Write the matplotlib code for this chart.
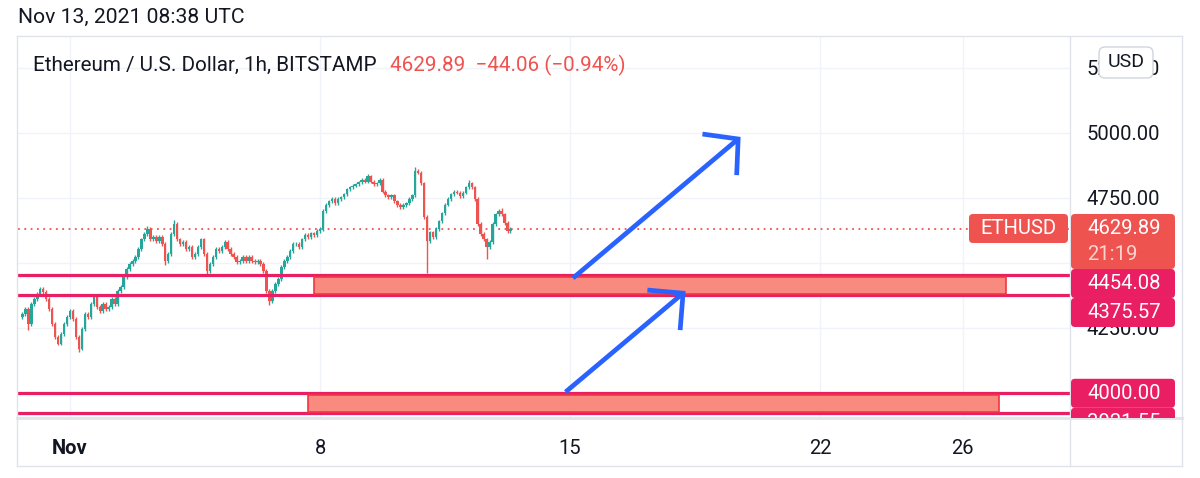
import numpy as np
import pandas as pd
import matplotlib
matplotlib.use("Agg")
import matplotlib.pyplot as plt
import matplotlib.dates as mdates
from matplotlib.patches import Rectangle, FancyBboxPatch
from matplotlib.lines import Line2D
from matplotlib.transforms import IdentityTransform, Bbox

plt.rcParams['font.family'] = ['Roboto', 'DejaVu Sans']

W, H = 1200, 478

# ETH/USD closes, 2h steps ending Nov 13 08:00 UTC
closes = [
    4303, 4323, 4265, 4342, 4361, 4380, 4399, 4388, 4361, 4323,
    4265, 4215, 4189, 4227, 4265, 4292, 4315, 4284, 4215, 4170,
    4246, 4303, 4292, 4342, 4369, 4330, 4315, 4342, 4323, 4330,
    4361, 4342, 4391, 4407, 4445, 4476, 4495, 4506, 4522, 4552,
    4590, 4610, 4629, 4590, 4598, 4583, 4598, 4571, 4506, 4533,
    4610, 4648, 4590, 4571, 4579, 4552, 4560, 4522, 4533, 4560,
    4590, 4533, 4468, 4495, 4522, 4552, 4545, 4560, 4579, 4552,
    4533, 4522, 4502, 4506, 4522, 4506, 4522, 4506, 4502, 4506,
    4495, 4468, 4391, 4353, 4391, 4418, 4437, 4483, 4506, 4522,
    4545, 4571, 4571, 4560, 4590, 4606, 4598, 4613, 4606, 4621,
    4629, 4698, 4721, 4736, 4744, 4728, 4744, 4751, 4763, 4782,
    4790, 4797, 4801, 4809, 4820, 4812, 4832, 4812, 4801, 4805,
    4820, 4774, 4759, 4751, 4759, 4736, 4721, 4713, 4721, 4728,
    4744, 4759, 4851, 4847, 4805, 4675, 4583, 4617, 4598, 4629,
    4659, 4690, 4724, 4744, 4763, 4774, 4770, 4755, 4770, 4790,
    4805, 4790, 4744, 4648, 4610, 4590, 4560, 4579, 4648, 4686,
    4698, 4686, 4652, 4622, 4629.89,
]
first_open = 4290
# notable wicks (candle index -> price)
highs_extra = {6: 4402, 42: 4640, 51: 4665, 116: 4842, 132: 4868, 133: 4862, 150: 4820, 161: 4710}
lows_extra = {2: 4240, 19: 4155, 48: 4490, 62: 4455, 83: 4338, 136: 4460, 156: 4515}
wick_pad = 7

last_price = 4629.89
header = "Ethereum / U.S. Dollar, 1h, BITSTAMP"
change_txt = "4629.89  \u221244.06 (\u22120.94%)"
stamp = "Nov 13, 2021 08:38 UTC"

level_prices = [4454.08, 4375.57, 4000.00, 3921.55]
zones = [  # top, bottom, start, end
    (4445, 4380, "2021-11-07 20:00", "2021-11-27 05:00"),
    (3991, 3926, "2021-11-07 16:00", "2021-11-27 00:00"),
]
arrows = [
    (["2021-11-15 02:00", "2021-11-19 17:00"], [4441, 4976],
     ["2021-11-18 17:00", "2021-11-19 17:00", "2021-11-19 16:00"], [4995, 4976, 4837]),
    (["2021-11-14 21:00", "2021-11-18 04:00"], [4003, 4383],
     ["2021-11-17 04:00", "2021-11-18 04:00", "2021-11-18 02:00"], [4395, 4383, 4241]),
]
tick_dates = ["2021-11-01", "2021-11-08", "2021-11-15", "2021-11-22", "2021-11-26"]
tick_labels = ["Nov", "8", "15", "22", "26"]
price_ticks = [4000, 4250, 4500, 4750, 5000, 5250]
hidden_ticks = [4000, 4500]   # covered by the price tags

UP, DOWN = "#26a69a", "#ef5350"
MAGENTA = "#e91e63"
BLUE = "#2962ff"
GRID = "#f0f3fa"
FRAME = "#e0e3eb"
TXT = "#131722"

fig = plt.figure(figsize=(W / 100, H / 100), dpi=100)
ax = fig.add_axes([18 / W, (H - 418) / H, (1070 - 18) / W, (418 - 36) / H])
for s in ax.spines.values():
    s.set_visible(False)

t = pd.date_range(end="2021-11-13 08:00", periods=len(closes), freq="2h")
x = mdates.date2num(t)
c = np.array(closes, dtype=float)
o = np.array([first_open] + closes[:-1], dtype=float)
hi = np.maximum(o, c) + wick_pad
lo = np.minimum(o, c) - wick_pad
for i, v in highs_extra.items():
    hi[i] = max(hi[i], v)
for i, v in lows_extra.items():
    lo[i] = min(lo[i], v)
cols = [UP if cc >= oo else DOWN for oo, cc in zip(o, c)]

ax.vlines(x, lo, hi, colors=cols, lw=1, zorder=3)
ax.bar(x, np.maximum(np.abs(c - o), 2), bottom=np.minimum(o, c), width=0.07,
       color=cols, zorder=3, linewidth=0)

ax.axhline(last_price, color=DOWN, lw=1.3, ls=(0, (1, 2.5)), zorder=2)

for p in level_prices:
    ax.axhline(p, color=MAGENTA, lw=2.3, zorder=4)

for top, bot, start, end in zones:
    x0 = mdates.date2num(pd.Timestamp(start))
    x1 = mdates.date2num(pd.Timestamp(end))
    ax.add_patch(Rectangle((x0, bot), x1 - x0, top - bot, facecolor="#f88a80",
                           edgecolor="#f23645", lw=1.2, zorder=5))

for line_d, line_p, head_d, head_p in arrows:
    xd = mdates.date2num(pd.to_datetime(line_d))
    hd = mdates.date2num(pd.to_datetime(head_d))
    ax.plot(xd, line_p, color=BLUE, lw=3.4, solid_capstyle="butt", zorder=6)
    ax.plot(hd, head_p, color=BLUE, lw=3.4, solid_capstyle="butt",
            solid_joinstyle="miter", zorder=6)

ax.set_xlim(mdates.date2num(pd.Timestamp("2021-10-30 13:03")),
            mdates.date2num(pd.Timestamp("2021-11-29 00:00")))
ax.set_ylim(3903, 5372)

ax.set_xticks(mdates.date2num(pd.to_datetime(tick_dates)))
ax.set_xticklabels(tick_labels)
ax.set_yticks(price_ticks)
ax.set_yticklabels(["" if v in hidden_ticks else f"{v:.2f}" for v in price_ticks])
ax.yaxis.tick_right()
ax.tick_params(axis="x", length=0, pad=15, labelsize=14.5, labelcolor=TXT)
ax.tick_params(axis="y", length=0, pad=12, labelsize=14.6, labelcolor=TXT)
ax.get_xticklabels()[0].set_fontweight("bold")
ax.grid(True, color=GRID, lw=1, zorder=0)
ax.set_axisbelow(True)

ID = IdentityTransform()


def py(p):
    return H - ax.transData.transform((0, p))[1]


def fline(x0, y0, x1, y1, lw=1, color=FRAME):
    fig.add_artist(Line2D([x0, x1], [H - y0, H - y1], transform=ID, color=color, lw=lw))


# frame
fline(17, 36, 1182, 36)
fline(17, 36, 17, 466)
fline(17, 466, 1182, 466)
fline(1182, 36, 1182, 466)
fline(1070, 36, 1070, 466)
fline(17, 418, 1182, 418, lw=2)

# header texts
fig.text(18, H - 23, stamp, transform=ID, fontsize=15.2, color=TXT, va="baseline")
fig.text(33, H - 71, header, transform=ID, fontsize=14.9, color=TXT, va="baseline")
fig.text(390, H - 71, change_txt, transform=ID, fontsize=14.9, color=DOWN, va="baseline")

# USD badge over the top price label
fig.add_artist(FancyBboxPatch((1099, H - 78), 54, 31, boxstyle="round,pad=0,rounding_size=6",
                              transform=ID, fc="white", ec="#d1d4dc", lw=1, zorder=10))
fig.text(1126, H - 62, "USD", transform=ID, fontsize=14, color=TXT, ha="center",
         va="center", zorder=11)

# ETHUSD tag on the last price line
yl = py(last_price)
fig.add_artist(FancyBboxPatch((969, H - (yl + 14)), 99, 29, boxstyle="round,pad=0,rounding_size=4",
                              transform=ID, fc="#ef5350", ec="none", zorder=10))
fig.text(1018, H - yl, "ETHUSD", transform=ID, fontsize=14.6, color="white", ha="center",
         va="center", zorder=11)

# price-scale labels, stacked like TradingView
clip = Bbox.from_extents(1071, H - 418, 1182, H - 36)
top = yl - 15
fig.add_artist(FancyBboxPatch((1071, H - (top + 55)), 104, 55, boxstyle="round,pad=0,rounding_size=4",
                              transform=ID, fc="#ef5350", ec="none", zorder=10))
fig.text(1087, H - yl, f"{last_price:.2f}", transform=ID, fontsize=14.6, color="white",
         va="center", zorder=11)
fig.text(1087, H - (yl + 26), "21:19", transform=ID, fontsize=14.6, color="#fcd3cf",
         va="center", zorder=11)
prev_bottom = top + 55
for p in level_prices:
    ty = max(py(p) - 14, prev_bottom)
    box = FancyBboxPatch((1071, H - (ty + 29)), 104, 29, boxstyle="round,pad=0,rounding_size=4",
                         transform=ID, fc=MAGENTA, ec="none", zorder=10)
    fig.add_artist(box)
    box.set_clip_box(clip)
    tx = fig.text(1087, H - (ty + 14.5), f"{p:.2f}", transform=ID, fontsize=14.6, color="white",
                  va="center", zorder=11)
    tx.set_clip_box(clip)
    tx.set_clip_on(True)
    prev_bottom = ty + 29

fig.savefig("out.png", dpi=100, facecolor="white")
